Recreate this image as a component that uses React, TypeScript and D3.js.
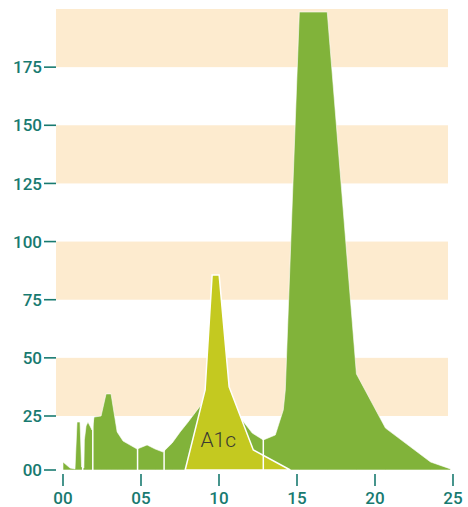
import React, { useEffect, useRef } from 'react';
import * as d3 from 'd3';

// retention time (min) and signal for the main trace
const greenTime = [0, 0.45, 0.77, 0.9, 1.09, 1.19, 1.34, 1.37, 1.48, 1.6, 1.73, 1.86, 1.99, 2.44, 2.76, 3.08, 3.47, 3.85, 4.75, 5.39, 5.91, 6.42, 6.55, 7.0, 7.51, 8.02, 8.6, 9.11, 10.08, 11.04, 11.68, 12.13, 12.84, 13.61, 14.12, 14.25, 15.15, 16.94, 18.81, 20.67, 23.56, 24.84];
const greenValue = [3.7, 0.9, 0.5, 22.2, 22.2, 1.4, 0.9, 13.9, 20.4, 22.2, 20.4, 18.5, 24.5, 25, 34.5, 34.5, 17.6, 13.4, 9.7, 11.6, 9.7, 8.3, 9.3, 12.5, 17.6, 22.2, 27.6, 31.9, 31.9, 26.7, 21.3, 17.1, 13.9, 16.2, 27.6, 36.2, 198.7, 198.7, 43.1, 19.4, 3.7, 0.5];

// A1c peak
const a1cTime = [7.83, 9.11, 9.56, 10.01, 10.65, 12.2, 14.57];
const a1cValue = [0, 36.2, 85.6, 85.6, 37.5, 9.3, 0];

// peak boundaries (white cuts)
const cutTimes = [1.26, 1.91, 4.78, 6.48, 12.84];

const xTicks = [0, 5, 10, 15, 20, 25];
const xTickLabels = ['00', '05', '10', '15', '20', '25'];
const yTicks = [0, 25, 50, 75, 100, 125, 150, 175];
const yTickLabels = ['00', '25', '50', '75', '100', '125', '150', '175'];
const bands = [[25, 50], [75, 100], [125, 150], [175, 200]];

const W = 468;
const H = 507;

export default () => {
  const svgRef = useRef<SVGSVGElement>(null);

  function draw(elm: SVGSVGElement) {
    const svg = d3.select(elm);
    svg.selectAll('*').remove();

    const teal = '#187a70';
    const font = 'Roboto, "DejaVu Sans", sans-serif';

    const x = d3.scaleLinear().domain([0, 25]).range([63, 453]);
    const y = d3.scaleLinear().domain([0, 25, 200]).range([470, 416, 9]);

    // background bands
    svg.append('g')
      .selectAll('rect')
      .data(bands)
      .enter()
      .append('rect')
      .attr('x', 56)
      .attr('width', 448 - 56)
      .attr('y', d => y(d[1]))
      .attr('height', d => y(d[0]) - y(d[1]))
      .attr('fill', '#fdebcf');

    const green = greenTime.map((t, i) => [t, greenValue[i]] as [number, number]);
    const a1c = a1cTime.map((t, i) => [t, a1cValue[i]] as [number, number]);

    const area = d3.area<[number, number]>()
      .x(d => x(d[0]))
      .y0(y(0))
      .y1(d => y(d[1]));

    svg.append('path')
      .attr('d', area(green))
      .attr('fill', '#81b33a')
      .attr('stroke', '#ffffff')
      .attr('stroke-width', 0.6);

    svg.append('path')
      .attr('d', area(a1c))
      .attr('fill', '#c4c920')
      .attr('stroke', '#ffffff')
      .attr('stroke-width', 1.5);

    // white cut lines between peaks
    const interp = (t: number) => {
      const i = d3.bisector((d: number) => d).right(greenTime, t);
      const t0 = greenTime[i - 1], t1 = greenTime[i];
      const v0 = greenValue[i - 1], v1 = greenValue[i];
      return Math.max(v0 + (v1 - v0) * (t - t0) / (t1 - t0), v0, v1);
    };

    svg.append('g')
      .selectAll('line')
      .data(cutTimes)
      .enter()
      .append('line')
      .attr('x1', d => x(d))
      .attr('x2', d => x(d))
      .attr('y1', y(0))
      .attr('y2', d => y(interp(d)))
      .attr('stroke', '#ffffff')
      .attr('stroke-width', 1.5);

    svg.append('text')
      .text('A1c')
      .attr('x', x(9.95))
      .attr('y', y(10.5))
      .attr('text-anchor', 'middle')
      .attr('font-family', font)
      .attr('font-weight', 300)
      .attr('font-size', '21px')
      .attr('fill', '#3a3a32');

    // y axis
    const yAxis = svg.append('g');
    yAxis.selectAll('line')
      .data(yTicks)
      .enter()
      .append('line')
      .attr('x1', 44)
      .attr('x2', 56)
      .attr('y1', d => y(d))
      .attr('y2', d => y(d))
      .attr('stroke', teal)
      .attr('stroke-width', 1.6);
    yAxis.selectAll('text')
      .data(yTicks)
      .enter()
      .append('text')
      .text((d, i) => yTickLabels[i])
      .attr('x', 42)
      .attr('y', d => y(d))
      .attr('dy', '0.36em')
      .attr('text-anchor', 'end')
      .attr('font-family', font)
      .attr('font-weight', 500)
      .attr('font-size', '17px')
      .attr('fill', teal);

    // x axis
    const xAxis = svg.append('g');
    xAxis.selectAll('line')
      .data(xTicks)
      .enter()
      .append('line')
      .attr('x1', d => x(d))
      .attr('x2', d => x(d))
      .attr('y1', 474)
      .attr('y2', 486)
      .attr('stroke', teal)
      .attr('stroke-width', 1.6);
    xAxis.selectAll('text')
      .data(xTicks)
      .enter()
      .append('text')
      .text((d, i) => xTickLabels[i])
      .attr('x', d => x(d))
      .attr('y', 504)
      .attr('text-anchor', 'middle')
      .attr('font-family', font)
      .attr('font-weight', 500)
      .attr('font-size', '17px')
      .attr('fill', teal);
  }

  useEffect(() => {
    if (svgRef.current) {
      draw(svgRef.current);
    }
  }, []);

  return (
    <svg
      ref={svgRef}
      width={W}
      height={H}
      style={{ position: 'absolute', left: 0, top: 0 }}
    ></svg>
  );
};
